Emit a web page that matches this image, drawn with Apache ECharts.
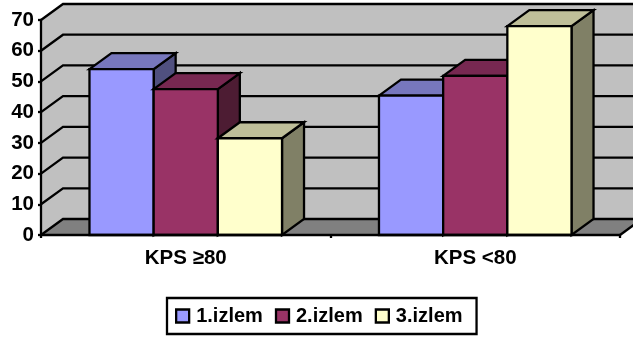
<!DOCTYPE html>
<html>
<head>
<meta charset="utf-8">
<style>html,body{margin:0;padding:0;background:#fff}#chart{width:633px;height:340px}</style>
<script src="https://cdn.jsdelivr.net/npm/echarts@6/dist/echarts.min.js"></script>
</head>
<body>
<div id="chart"></div>
<script>
// Visit results per KPS group
const categories = ['KPS ≥80', 'KPS <80'];
const visit1 = [54, 45.4];
const visit2 = [47.5, 51.8];
const visit3 = [31.5, 68];
const seriesNames = ['1.izlem', '2.izlem', '3.izlem'];
const tickValues = [0, 10, 20, 30, 40, 50, 60, 70];

// Front, top and side shades of each bar
const shades = [
  { front: '#9999FF', top: '#7777BD', side: '#50507F' },
  { front: '#993366', top: '#772851', side: '#4D1C33' },
  { front: '#FFFFCC', top: '#BFBF99', side: '#808066' }
];
const DEPTH_X = 22, DEPTH_Y = 16, BAR_SHARE = 0.2217;
const LINE = 2.3;
const FONT = '"Liberation Sans", Arial, sans-serif';
const edge = { stroke: '#000', lineWidth: LINE, lineJoin: 'miter' };

function poly(points, fill) {
  return { type: 'polygon', shape: { points }, style: Object.assign({ fill }, edge) };
}

// Side wall, back wall, floor and the gridlines that fold across them
function renderWalls(params, api) {
  const cs = params.coordSys;
  const left = cs.x, right = cs.x + cs.width;
  const yTop = api.coord([0, 70])[1], yBase = api.coord([0, 0])[1];
  const y = api.coord([0, api.value(1)])[1];
  const children = [];
  if (params.dataIndex === 0) {
    const plain = fill => ({ fill, stroke: null });
    children.push(
      { type: 'polygon', shape: { points: [[left, yTop], [left + DEPTH_X, yTop - DEPTH_Y], [right + DEPTH_X, yTop - DEPTH_Y], [right + DEPTH_X, yBase - DEPTH_Y], [left + DEPTH_X, yBase - DEPTH_Y], [left, yBase]] }, style: plain('#C0C0C0') },
      { type: 'polygon', shape: { points: [[left, yBase], [left + DEPTH_X, yBase - DEPTH_Y], [right + DEPTH_X, yBase - DEPTH_Y], [right, yBase]] }, style: plain('#808080') },
      { type: 'polyline', shape: { points: [[right, yBase], [right + DEPTH_X, yBase - DEPTH_Y]] }, style: { fill: null, stroke: '#000', lineWidth: LINE } }
    );
  }
  children.push({
    type: 'polyline',
    shape: { points: [[left, y], [left + DEPTH_X, y - DEPTH_Y], [right + DEPTH_X, y - DEPTH_Y]] },
    style: { fill: null, stroke: '#000', lineWidth: LINE }
  });
  return { type: 'group', children };
}

// One extruded bar: side and top faces first, then the front face
function renderBar(seriesIndex) {
  return function (params, api) {
    const cat = api.value(0);
    const p = api.coord([cat, api.value(1)]);
    const yBase = api.coord([cat, 0])[1];
    const w = api.size([1, 0])[0] * BAR_SHARE;
    const x0 = p[0] - 1.5 * w + seriesIndex * w, x1 = x0 + w, y = p[1];
    const s = shades[seriesIndex];
    return {
      type: 'group',
      children: [
        poly([[x1, y], [x1 + DEPTH_X, y - DEPTH_Y], [x1 + DEPTH_X, yBase - DEPTH_Y], [x1, yBase]], s.side),
        poly([[x0, y], [x0 + DEPTH_X, y - DEPTH_Y], [x1 + DEPTH_X, y - DEPTH_Y], [x1, y]], s.top),
        poly([[x0, y], [x1, y], [x1, yBase], [x0, yBase]], s.front)
      ]
    };
  };
}

const barSeries = [visit1, visit2, visit3].map((values, i) => ({
  name: seriesNames[i],
  type: 'custom',
  z: 3 + i,
  clip: false,
  renderItem: renderBar(i),
  encode: { x: 0, y: 1 },
  itemStyle: { color: shades[i].front },
  data: values.map((v, c) => [c, v])
}));

const chart = echarts.init(document.getElementById('chart'), null, { renderer: 'canvas' });
chart.setOption({
  animation: false,
  backgroundColor: '#fff',
  textStyle: { fontFamily: FONT },
  grid: { left: 41, right: 13, top: 20, bottom: 105 },
  xAxis: {
    type: 'category',
    data: categories,
    z: 10,
    axisLine: { lineStyle: { color: '#000', width: LINE } },
    axisTick: { show: true, length: 3, lineStyle: { color: '#000', width: LINE } },
    axisLabel: { color: '#000', fontFamily: FONT, fontWeight: 'bold', fontSize: 20.5, margin: 13 }
  },
  yAxis: {
    type: 'value',
    min: 0,
    max: 70,
    interval: 10,
    z: 10,
    splitLine: { show: false },
    axisLine: { show: true, lineStyle: { color: '#000', width: LINE } },
    axisTick: { show: true, length: 3, lineStyle: { color: '#000', width: LINE } },
    axisLabel: { color: '#000', fontFamily: FONT, fontWeight: 'bold', fontSize: 20.5, margin: 7 }
  },
  legend: {
    data: seriesNames,
    left: 167,
    top: 298,
    orient: 'horizontal',
    padding: [8, 14, 8, 8],
    itemGap: 12,
    itemWidth: 13,
    itemHeight: 13,
    icon: 'rect',
    backgroundColor: '#fff',
    borderColor: '#000',
    borderWidth: LINE,
    itemStyle: { borderColor: '#000', borderWidth: LINE },
    textStyle: { color: '#000', fontFamily: FONT, fontWeight: 'bold', fontSize: 20, padding: [0, 0, 0, 2] }
  },
  series: [{
    type: 'custom',
    z: 1,
    clip: false,
    silent: true,
    renderItem: renderWalls,
    encode: { x: 0, y: 1 },
    data: tickValues.map(v => [0, v])
  }].concat(barSeries)
});
</script>
</body>
</html>
